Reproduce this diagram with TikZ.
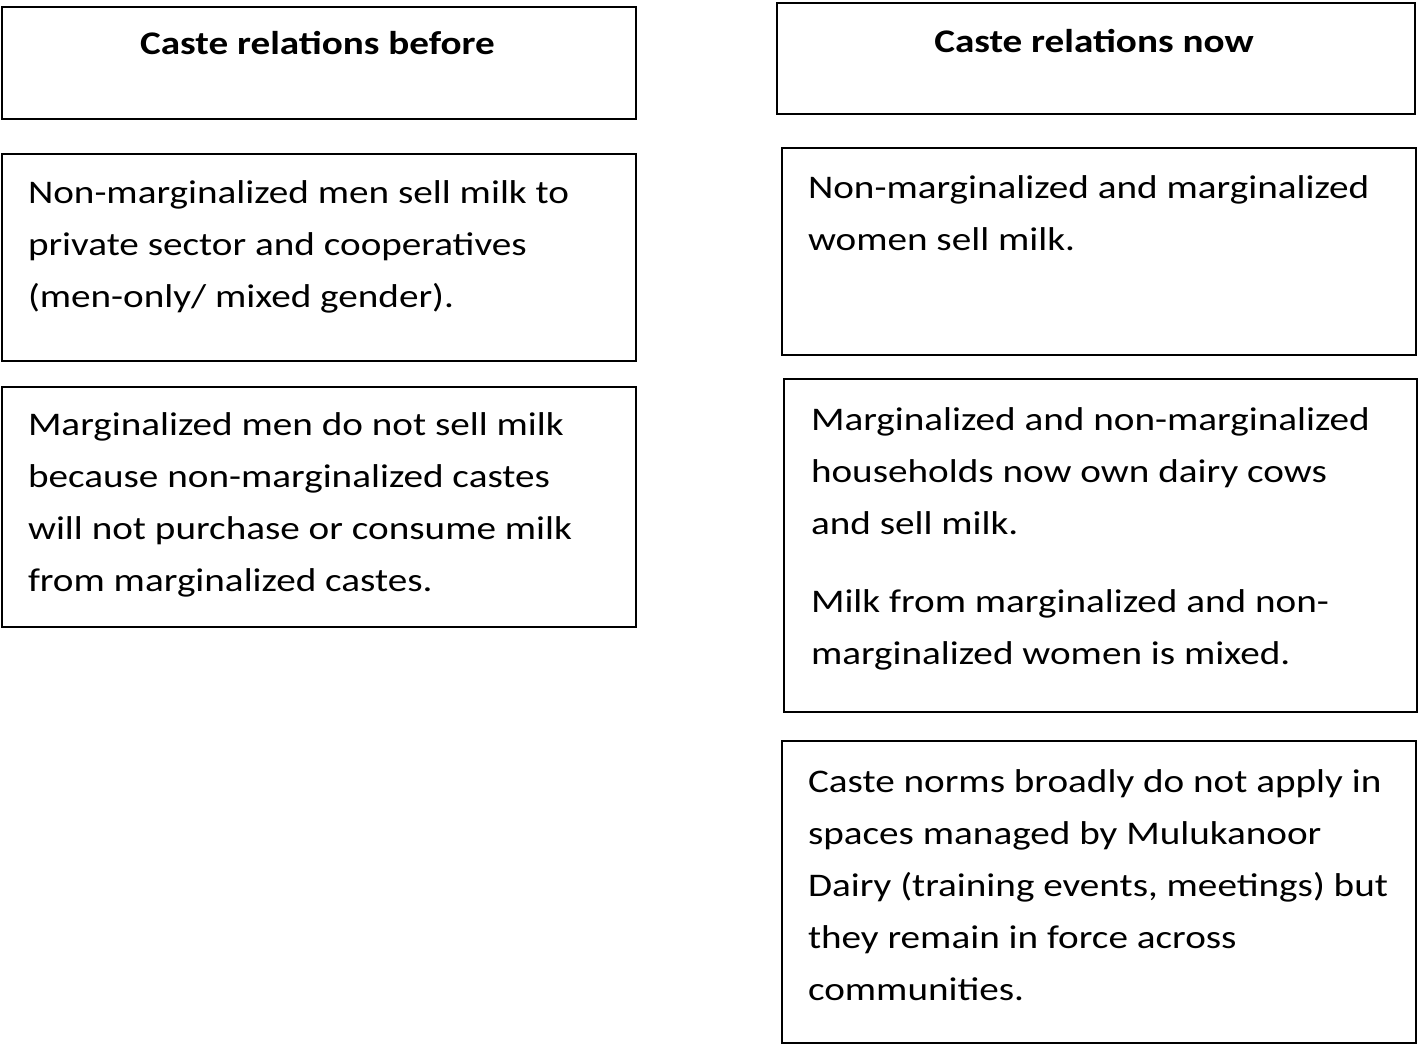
\documentclass[tikz,border=0pt]{standalone}
\usepackage{fontspec}
\setmainfont{Carlito}[FakeStretch=1.187]
\begin{document}
\begin{tikzpicture}[x=1pt,y=-1pt,
  box/.style={draw=black,line width=2.2pt,inner sep=0pt,outer sep=0pt,anchor=north west,fill=none},
  txt/.style={anchor=base west,inner sep=0pt,outer sep=0pt,font=\fontsize{33}{52}\selectfont},
  ttl/.style={anchor=base,inner sep=0pt,outer sep=0pt,font=\fontsize{33}{40}\selectfont\bfseries}]
\useasboundingbox[fill=white] (0,0) rectangle (1421,1046);
% left column
\node[box,minimum width=634pt,minimum height=112pt] (L1) at (2,7) {};
\node[box,minimum width=634pt,minimum height=207pt] (L2) at (2,154) {};
\node[box,minimum width=634pt,minimum height=240pt] (L3) at (2,387) {};
% right column
\node[box,minimum width=638pt,minimum height=111pt] (R1) at (777,3) {};
\node[box,minimum width=634pt,minimum height=207pt] (R2) at (782,148) {};
\node[box,minimum width=633pt,minimum height=333pt] (R3) at (784,379) {};
\node[box,minimum width=634pt,minimum height=302pt] (R4) at (782,741) {};
% titles
\node[ttl] (T1) at (317.5,55) {Caste relations before};
\node[ttl] (T2) at (1094,53) {Caste relations now};
% texts
\node[txt] (t2) at (28,203) {\parbox[t]{620pt}{\raggedright
Non-marginalized men sell milk to\\
private sector and cooperatives\\
(men-only/ mixed gender).}};
\node[txt] (t3) at (28,435) {\parbox[t]{620pt}{\raggedright
Marginalized men do not sell milk\\
because non-marginalized castes\\
will not purchase or consume milk\\
from marginalized castes.}};
\node[txt] (r2) at (808,198) {\parbox[t]{620pt}{\raggedright
Non-marginalized and marginalized\\
women sell milk.}};
\node[txt] (r3) at (811,430) {\parbox[t]{620pt}{\raggedright
Marginalized and non-marginalized\\
households now own dairy cows\\
and sell milk.\\[26pt]
Milk from marginalized and non-\\
marginalized women is mixed.}};
\node[txt] (r4) at (808,792) {\parbox[t]{620pt}{\raggedright
Caste norms broadly do not apply in\\
spaces managed by Mulukanoor\\
Dairy (training events, meetings) but\\
they remain in force across\\
communities.}};
\end{tikzpicture}
\end{document}
